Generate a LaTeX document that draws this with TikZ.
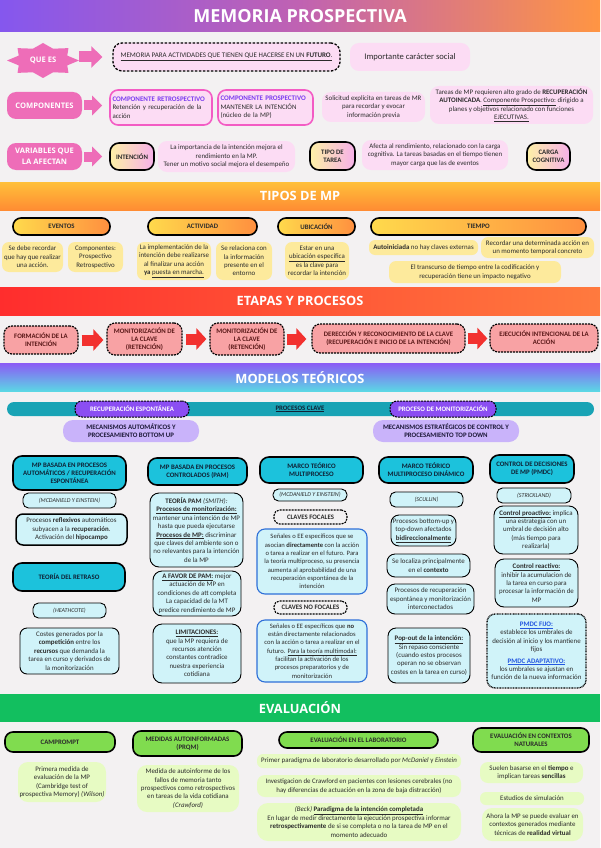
\documentclass[tikz,border=0pt]{standalone}
\usepackage{fontspec}
\setmainfont{Carlito}
\newfontfamily\hfont{Open Sans}
\usetikzlibrary{arrows.meta}
\definecolor{bg}{HTML}{F3F1F2}
\definecolor{txt}{HTML}{2B2B2B}
\definecolor{pinkL}{HTML}{EE6DB8}
\definecolor{pinkF}{HTML}{FCDCF4}
\definecolor{pinkB}{HTML}{F35CC4}
\definecolor{purT}{HTML}{7A3CF0}
\definecolor{yelI}{HTML}{FDF0A6}
\definecolor{pinkI}{HTML}{F6B0EA}
\definecolor{tiL}{HTML}{8557EE}
\definecolor{tiM}{HTML}{C062B2}
\definecolor{tiR}{HTML}{FF9543}
\definecolor{tyT}{HTML}{FFC03A}
\definecolor{tyB}{HTML}{FF8C33}
\definecolor{tpL}{HTML}{FFDA4C}
\definecolor{tpR}{HTML}{FF8F3F}
\definecolor{yelF}{HTML}{FDEA9C}
\definecolor{etL}{HTML}{FF2D2D}
\definecolor{etR}{HTML}{FF7A3E}
\definecolor{salF}{HTML}{F8A2A4}
\definecolor{stT}{HTML}{5A1818}
\definecolor{redA}{HTML}{F2312F}
\definecolor{moT}{HTML}{8B5CF5}
\definecolor{moB}{HTML}{5AD9E4}
\definecolor{tealc}{HTML}{18A3B5}
\definecolor{purP}{HTML}{8B4EF2}
\definecolor{lavc}{HTML}{C9B3FA}
\definecolor{lavT}{HTML}{1C1838}
\definecolor{cyH}{HTML}{1CC2DC}
\definecolor{chT}{HTML}{0F2236}
\definecolor{cyL}{HTML}{D0F3F9}
\definecolor{bluB}{HTML}{2E6FD8}
\definecolor{bluT}{HTML}{2457E0}
\definecolor{grB}{HTML}{12BF5F}
\definecolor{grP}{HTML}{80DC4F}
\definecolor{grL}{HTML}{E7FBC3}
\newcommand\fs{\fontsize{6.9}{8.4}\selectfont}
\newcommand\fsn{\fontsize{6.6}{8.3}\selectfont}
\newcommand\fhb{\fontsize{6.8}{8}\selectfont\bfseries}
\newcommand\flab{\hfont\fontsize{7.6}{10.5}\selectfont\bfseries}
\newcommand\fsec{\hfont\fontsize{12.8}{14}\selectfont\bfseries}
\newcommand\ftitle{\hfont\fontsize{18}{20}\selectfont\bfseries}
\newcommand\bx[7]{%
  \pgfmathsetmacro\bxw{#5-#3}\pgfmathsetmacro\bxh{#6-#4}%
  \pgfmathsetmacro\bxcx{(#3+#5)/2}\pgfmathsetmacro\bxcy{(#4+#6)/2}%
  \node[base, align=center, minimum width=\bxw pt, minimum height=\bxh pt, #1] (#2) at (\bxcx,\bxcy) {#7};}
\tikzset{
  base/.style={inner sep=1pt, font=\fs, text=txt},
  banner/.style={minimum width=600pt, minimum height=28pt, inner sep=0pt, text=white, font=\fsec},
  lab/.style={fill=pinkL, rounded corners=9pt, text=white, font=\flab},
  dbox/.style={draw=black, line width=1.3pt, dash pattern=on 2.5pt off 1.5pt, fill=pinkF, rounded corners=9pt},
  pbox/.style={fill=pinkF, rounded corners=9pt},
  cbox/.style={draw=pinkB, line width=1.6pt, fill=pinkF, rounded corners=8pt},
  gvar/.style={draw=black, line width=1.6pt, left color=yelI, right color=pinkI, rounded corners=9pt, font=\fhb},
  tpill/.style={draw=black, line width=1.6pt, left color=tpL, right color=tpR, rounded corners=8pt, font=\fhb},
  ybox/.style={fill=yelF, rounded corners=7pt},
  sbox/.style={draw=black, line width=1.2pt, dash pattern=on 2pt off 1pt, fill=salF, rounded corners=8pt, font=\fhb, text=stT},
  ppill/.style={draw=black, line width=1pt, dash pattern=on 2pt off 1pt, fill=purP, rounded corners=7pt, text=white, font=\fhb},
  lav/.style={fill=lavc, rounded corners=10pt, font=\fhb, text=lavT},
  chead/.style={draw=black, line width=1.6pt, fill=cyH, rounded corners=9pt, font=\fhb, text=chT},
  cl/.style={draw=black, line width=0.9pt, fill=cyL, rounded corners=7pt},
  clsm/.style={cl, rounded corners=5.5pt, font=\fontsize{6}{7}\selectfont\itshape},
  cld/.style={draw=black, line width=1.1pt, dash pattern=on 2pt off 1pt, fill=bg, rounded corners=5.5pt, font=\fhb},
  blb/.style={draw=bluB, line width=1.1pt, fill=cyL, rounded corners=8pt, font=\fsn},
  pdot/.style={draw=black, line width=1.3pt, dash pattern=on 0.9pt off 0.7pt, fill=cyL, rounded corners=8pt},
  gpill/.style={draw=black, line width=1.6pt, fill=grP, rounded corners=8pt, font=\fhb},
  gbox/.style={fill=grL, rounded corners=8pt},
  parrow/.style={line width=10pt, pinkL, -{Triangle[length=10pt,width=19pt]}},
  rarrow/.style={line width=11pt, redA, -{Triangle[length=10pt,width=21pt]}}
}
\begin{document}
\begin{tikzpicture}[x=1pt,y=-1pt]
\useasboundingbox (0,0) rectangle (600,848);
\fill[bg] (0,0) rectangle (600,848);
% ---------- title
\node[banner, minimum height=32pt, font=\ftitle, left color=tiL, right color=tiR, middle color=tiM] (title) at (300,16) {MEMORIA PROSPECTIVA};
% ---------- row 1
\fill[pinkL] (79,60.5) \foreach \k in {1,...,15}{ -- ({43+36*(1-0.27*mod(\k,2))*cos(\k*22.5)},{60.5+17.5*(1-0.27*mod(\k,2))*sin(\k*22.5)}) } -- cycle;
\node[base, minimum width=72pt, minimum height=35pt, text=white, font=\flab] (quees) at (43,60.5) {QUE ES};
\bx{dbox, font=\fontsize{7}{8}\selectfont}{def}{113}{43}{340}{71}{\underline{MEMORIA PARA ACTIVIDADES QUE TIENEN QUE HACERSE EN UN \textbf{FUTURO}.}}
\bx{pbox, font=\fontsize{8.6}{10}\selectfont}{social}{350}{43}{470}{71}{Importante carácter social}
\draw[parrow, line width=11pt, -{Triangle[length=11pt,width=21pt]}] (quees.east |- def.west) -- ([xshift=-10pt]def.west);
% ---------- row 2
\bx{lab}{comp}{7}{92}{82}{119}{COMPONENTES}
\bx{cbox, align=left, text width=97pt}{retro}{110}{90}{212}{125}{\textcolor{purT}{\fontsize{7}{8}\selectfont\bfseries COMPONENTE RETROSPECTIVO}\\Retención y recuperación de la\\acción}
\bx{cbox, align=left, text width=90pt}{prosp}{218}{90}{313}{125}{\textcolor{purT}{\fontsize{7}{8}\selectfont\bfseries COMPONENTE PROSPECTIVO}\\MANTENER LA INTENCIÓN\\(núcleo de la MP)}
\bx{pbox}{solic}{322}{92}{425}{122}{Solicitud explícita en tareas de MR\\para recordar y evocar\\información previa}
\bx{pbox}{tareas}{430}{86}{593}{124}{Tareas de MP requieren alto grado de \textbf{RECUPERACIÓN}\\\textbf{AUTOINICADA}. \underline{Componente Prospectivo:} dirigido a\\planes y objetivos relacionado con funciones\\\underline{EJECUTIVAS.}}
\draw[parrow, shorten <=2pt, shorten >=7pt] (comp.east) -- (comp.east -| retro.west);
% ---------- row 3
\bx{lab}{vars}{7}{143}{82}{170}{VARIABLES QUE\\LA AFECTAN}
\bx{gvar}{intenc}{110}{143}{154}{170}{INTENCIÓN}
\bx{pbox}{intt}{158}{141}{295}{172}{La importancia de la intención mejora el\\rendimiento en la MP.\\Tener un motivo social mejora el desempeño}
\bx{gvar}{tipot}{310}{142}{355}{170}{TIPO DE\\TAREA}
\bx{pbox}{tipott}{362}{140}{508}{170}{Afecta al rendimiento, relacionado con la carga\\cognitiva. La tareas basadas en el tiempo tienen\\mayor carga que las de eventos}
\bx{gvar}{carga}{527}{143}{570}{170}{CARGA\\COGNITIVA}
\draw[parrow, shorten <=2pt, shorten >=7pt] (vars.east) -- (vars.east -| intenc.west);
% ---------- TIPOS DE MP
\node[banner, top color=tyT, bottom color=tyB] (tipos) at (300,196) {TIPOS DE MP};
\bx{tpill}{eventos}{13}{218}{110}{235}{EVENTOS}
\bx{tpill}{activ}{148}{218}{257}{235}{ACTIVIDAD}
\bx{tpill}{ubic}{278}{218}{355}{235}{UBICACIÓN}
\bx{tpill}{tiempo}{371}{218}{586}{235}{TIEMPO}
\bx{ybox}{ev1}{2}{242}{63}{272}{Se debe recordar\\que hay que realizar\\una acción.}
\bx{ybox}{ev2}{68}{242}{123}{272}{Componentes:\\Prospectivo\\Retrospectivo}
\bx{ybox}{ac1}{137}{242}{211}{280}{La implementación de la\\intención debe realizarse\\al finalizar una acción\\\textbf{ya} \underline{puesta en marcha.}}
\bx{ybox}{ac2}{216}{242}{272}{280}{Se relaciona con\\la información\\presente en el\\entorno}
\bx{ybox}{ub1}{285}{242}{349}{280}{Estar en una\\\underline{ubicación específica}\\es la clave para\\recordar la intención}
\bx{ybox, rounded corners=6pt}{ti1}{369}{240}{478}{255}{\textbf{Autoiniciada} no hay claves externas}
\bx{ybox}{ti2}{481}{237}{594}{258}{Recordar una determinada acción en\\un momento temporal concreto}
\bx{ybox}{ti3}{389}{261}{561}{283}{El transcurso de tiempo entre la codificación y\\recuperación tiene un impacto negativo}
% ---------- ETAPAS
\node[banner, left color=etL, right color=etR] (etapas) at (300,301) {ETAPAS Y PROCESOS};
\bx{sbox}{form}{4}{326}{78}{354}{FORMACIÓN DE LA\\INTENCIÓN}
\bx{sbox}{mon1}{107}{323}{182}{355}{MONITORIZACIÓN DE\\LA CLAVE\\(RETENCIÓN)}
\bx{sbox}{mon2}{210}{323}{284}{355}{MONITORIZACIÓN DE\\LA CLAVE\\(RETENCIÓN)}
\bx{sbox}{derec}{312}{324}{465}{353}{DERECCIÓN Y RECONOCIMIENTO DE LA CLAVE\\(RECUPERACIÓN E INICIO DE LA INTENCIÓN)}
\bx{sbox}{ejec}{490}{324}{598}{352}{EJECUCIÓN INTENCIONAL DE LA\\ACCIÓN}
\draw[rarrow, shorten <=3pt, shorten >=3pt] (form.east) -- (form.east -| mon1.west);
\draw[rarrow, shorten <=3pt, shorten >=3pt] (mon1.east) -- (mon2.west);
\draw[rarrow, shorten <=2pt, shorten >=5pt] (mon2.east) -- (mon2.east -| derec.west);
\draw[rarrow, shorten <=2pt, shorten >=2pt] (derec.east) -- (derec.east -| ejec.west);
% ---------- MODELOS
\node[banner, top color=moT, bottom color=moB] (modelos) at (300,377.5) {MODELOS TEÓRICOS};
\bx{fill=tealc, rounded corners=7pt}{bar}{7}{402}{594}{416}{}
\node[base, font=\fhb, text=chT] (pclave) at (300,409) {\underline{PROCESOS CLAVE}};
\bx{ppill}{recesp}{75}{401}{189}{417}{RECUPERACIÓN ESPONTÁNEA}
\bx{ppill}{procmon}{390}{401}{496}{417}{PROCESO DE MONITORIZACIÓN}
\bx{lav}{mecaut}{63}{420}{199}{442}{MECANISMOS AUTOMÁTICOS Y\\PROCESAMIENTO BOTTOM UP}
\bx{lav}{mecest}{373}{420}{519}{442}{MECANISMOS ESTRATÉGICOS DE CONTROL Y\\PROCESAMIENTO TOP DOWN}
% col 1
\bx{chead}{h1}{13}{456}{126}{490}{MP BASADA EN PROCESOS\\AUTOMÁTICOS / RECUPERACIÓN\\ESPONTÁNEA}
\bx{clsm}{a1}{23}{493}{116}{508}{(MCDANIELD Y EINSTEIN)}
\bx{cl, line width=1.5pt}{a2}{16}{514}{127}{545}{Procesos \textbf{reflexivos} automáticos\\subyacen a la \textbf{recuperación}.\\Activación del \textbf{hipocampo}}
\bx{chead}{h1b}{13}{563}{125}{591}{TEORÍA DEL RETRASO}
\bx{clsm}{a3}{33}{603}{106}{618}{(HEATHCOTE)}
\bx{cl}{a4}{20}{628}{119}{674}{Costes generados por la\\\textbf{competición} entre los\\\textbf{recursos} que demanda la\\tarea en curso y derivados de\\la monitorización}
% col 2
\bx{chead}{h2}{148}{458}{247}{485}{MP BASADA EN PROCESOS\\CONTROLADOS (PAM)}
\bx{cl, rounded corners=9pt}{b1}{150}{493}{243}{567}{\textbf{TEORÍA PAM} \textit{(SMITH):}\\\textbf{\underline{Procesos de monitorización:}}\\mantener una intención de MP\\hasta que pueda ejecutarse\\\textbf{\underline{Procesos de MP:}} discriminar\\que claves del ambiente son o\\no relevantes para la intención\\de la MP}
\bx{cl, rounded corners=9pt}{b2}{153}{571}{241}{616}{\textbf{\underline{A FAVOR DE PAM:}} mejor\\actuación de MP en\\condiciones de att completa\\La capacidad de la MT\\predice rendimiento de MP}
\bx{cl, rounded corners=9pt}{b3}{153}{624}{241}{683}{\textbf{\underline{LIMITACIONES:}}\\que la MP requiera de\\recursos atención\\constantes contradice\\nuestra experiencia\\cotidiana}
% col 3
\bx{chead}{h3}{260}{457}{363}{483}{MARCO TEÓRICO\\MULTIPROCESO}
\bx{clsm}{c1}{273}{489}{347}{501}{(MCDANIELD Y EINSTEIN)}
\bx{cld}{c2}{274}{510}{347}{524}{CLAVES FOCALES}
\bx{blb}{c3}{257}{529}{367}{594}{Señales o EE específicos que se\\asocian \textbf{directamente} con la acción\\o tarea a realizar en el futuro. Para\\la teoría multiproceso, su presencia\\aumenta al aprobabilidad de una\\recuperación espontánea de la\\intención}
\bx{cld}{c4}{274}{601}{347}{614}{CLAVES NO FOCALES}
\bx{blb}{c5}{257}{620}{367}{682}{Señales o EE específicos que \textbf{no}\\están directamente relacionados\\con la acción o tarea a realizar en el\\futuro. \underline{Para la teoría multimodal:}\\facilitan la activación de los\\procesos preparatorios y de\\monitorización}
% col 4
\bx{chead}{h4}{379}{457}{473}{483}{MARCO TEÓRICO\\MULTIPROCESO DINÁMICO}
\bx{clsm}{d1}{390}{492}{463}{507}{(SCULLIN)}
\bx{cl, rounded corners=8pt}{d2}{391}{515}{456}{546}{Procesos bottom-up y\\top-down afectados\\\textbf{\underline{bidireccionalmente}}}
\bx{cl, rounded corners=8pt}{d3}{387}{554}{470}{577}{Se localiza principalmente\\en el \textbf{contexto}}
\bx{cl, rounded corners=8pt}{d4}{387}{584}{474}{614}{Procesos de recuperación\\espontánea y monitorización\\interconectados}
\bx{cl, rounded corners=8pt}{d5}{388}{628}{470}{683}{\textbf{\underline{Pop-out de la intención:}}\\Sin repaso consciente\\(cuando estos procesos\\operan no se observan\\costes en la tarea en curso)}
% col 5
\bx{chead}{h5}{490}{455}{574}{483}{CONTROL DE DECISIONES\\DE MP (PMDC)}
\bx{clsm}{e1}{497}{488}{571}{503}{(STRICKLAND)}
\bx{cl, rounded corners=9pt}{e2}{494}{506}{578}{554}{\textbf{\underline{Control proactivo:}} implica\\una estrategia con un\\umbral de decisión alto\\(más tiempo para\\realizarla)}
\bx{cl, rounded corners=9pt}{e3}{495}{559}{578}{607}{\textbf{\underline{Control reactivo:}}\\inhibir la acumulacion de\\la tarea en curso para\\procesar la información de\\MP}
\bx{pdot}{e4}{487}{614}{586}{688}{\textcolor{bluT}{\textbf{\underline{PMDC FIJO:}}}\\establece los umbrales de\\decisión al inicio y los mantiene\\fijos\\[3pt]\textcolor{bluT}{\textbf{\underline{PMDC ADAPTATIVO:}}}\\los umbrales se ajustan en\\función de la nueva información}
% ---------- EVALUACION
\node[banner, fill=grB] (evalu) at (300,708) {EVALUACIÓN};
\bx{gpill}{camp}{5}{732}{115}{752}{CAMPROMPT}
\bx{gpill}{medid}{133}{731}{242}{756}{MEDIDAS AUTOINFORMADAS\\(PRQM)}
\bx{gpill}{labo}{279}{732}{438}{748}{EVALUACIÓN EN EL LABORATORIO}
\bx{gpill}{natur}{473}{728}{589}{752}{EVALUACIÓN EN CONTEXTOS\\NATURALES}
\bx{gbox, rounded corners=10pt}{f1}{18}{762}{106}{802}{Primera medida de\\evaluación de la MP\\(Cambridge test of\\prospectiva Memory) \textit{(Wilson)}}
\bx{gbox, rounded corners=10pt}{f2}{137}{765}{239}{812}{Medida de autoinforme de los\\fallos de memoria tanto\\prospectivos como retrospectivos\\en tareas de la vida cotidiana\\\textit{(Crawford)}}
\bx{gbox, rounded corners=6pt}{g1}{257}{754}{461}{768}{Primer paradigma de laboratorio desarrollado por \textit{McDaniel} y \textit{Einstein}}
\bx{gbox}{g2}{257}{775}{461}{797}{Investigacion de Crawford en pacientes con lesiones cerebrales (no\\hay diferencias de actuación en la zona de baja distracción)}
\bx{gbox, rounded corners=11pt}{g3}{257}{803}{461}{841}{\textit{(Beck)} \textbf{\underline{Paradigma de la intención completada}}\\En lugar de medir directamente la ejecución prospectiva informar\\\textbf{retrospectivamente} de si se completa o no la tarea de MP en el\\momento adecuado}
\bx{gbox}{n1}{480}{762}{583}{783}{Suelen basarse en el \textbf{tiempo} e\\implican tareas \textbf{sencillas}}
\bx{gbox, rounded corners=6pt}{n2}{480}{792}{584}{805}{Estudios de simulación}
\bx{gbox, rounded corners=10pt}{n3}{482}{808}{583}{841}{Ahora la MP se puede evaluar en\\contextos generados mediante\\técnicas de \textbf{realidad virtual}}
\end{tikzpicture}
\end{document}
